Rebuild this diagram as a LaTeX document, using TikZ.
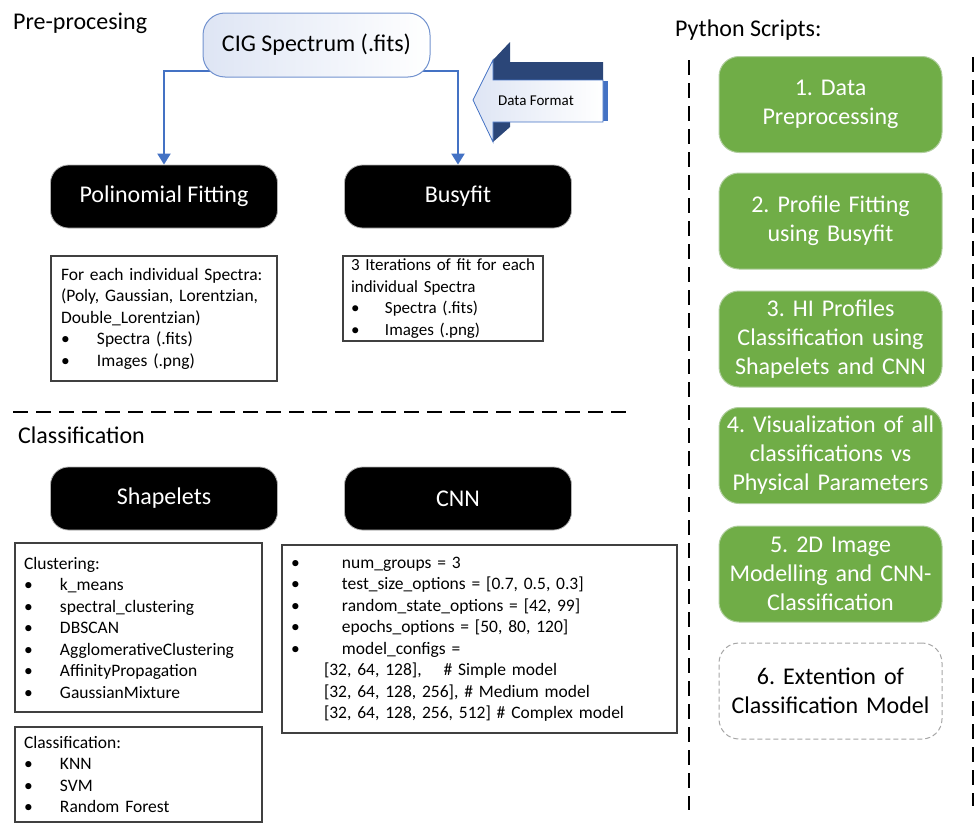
\documentclass[tikz,border=0pt]{standalone}
\usepackage{fontspec}
\setmainfont{Carlito}
\usepackage{xcolor}
\usepackage{tikz}
\usetikzlibrary{arrows.meta,positioning,backgrounds}
\frenchspacing
\definecolor{psblue}{RGB}{68,114,196}
\definecolor{psedge}{RGB}{114,146,207}
\definecolor{psface}{RGB}{222,229,244}
\definecolor{psdark}{RGB}{43,70,120}
\definecolor{psgreen}{RGB}{112,173,71}
\definecolor{psgreenedge}{RGB}{176,206,158}
\definecolor{psframe}{RGB}{64,64,64}
\newcommand{\pbul}[2][36pt]{\makebox[#1][l]{\textbullet}#2}
\tikzset{
pstitle/.style={font=\fontsize{24}{29}\selectfont,inner sep=0pt,anchor=base west},
pssource/.style={rectangle,rounded corners=22pt,draw=psedge,line width=1pt,left color=psface,right color=white,minimum width=227pt,minimum height=64pt,font=\fontsize{24}{29}\selectfont},
psmethod/.style={rectangle,rounded corners=18pt,draw=gray!60,line width=0.8pt,fill=black,text=white,minimum width=227pt,minimum height=63pt,font=\fontsize{24}{29}\selectfont},
pslist/.style={rectangle,draw=psframe,line width=1.2pt,align=left,inner xsep=9pt,inner ysep=0pt,font=\fontsize{17.5}{21.5}\selectfont},
psscript/.style={rectangle,rounded corners=20pt,draw=psgreenedge,line width=1pt,fill=psgreen,text=white,align=center,minimum width=223pt,minimum height=96pt,text width=215pt,font=\fontsize{24}{29}\selectfont},
psfuture/.style={psscript,fill=white,text=black,draw=gray!70,dash pattern=on 5pt off 3pt},
psflow/.style={-{Triangle[width=13pt,length=11pt]},psblue,line width=2pt},
psdiv/.style={line width=2pt,dash pattern=on 15pt off 8pt},
pslabel/.style={font=\fontsize{15}{18}\selectfont,inner sep=0pt}
}
\begin{document}
\begin{tikzpicture}[x=1pt,y=-1pt]
\useasboundingbox (0,0) rectangle (974,827);
% section titles
\node[pstitle] (pretitle) at (13,29) {Pre-procesing};
\node[pstitle] (clstitle) at (18,443) {Classification};
\node[pstitle] (pytitle) at (675,36) {Python Scripts:};
% pre-processing
\node[pssource] (cig) at (316.5,45) {CIG Spectrum (.fits)};
\node[psmethod] (polyfit) at (164,196.5) {Polinomial Fitting};
\node[psmethod] (busyfit) at (458,196.5) {Busyfit};
\node[pslist,inner xsep=10pt,text width=206pt,minimum height=125pt]
  (polyout) at (164,318.5) {For each individual Spectra:\\(Poly, Gaussian, Lorentzian,\\Double\_Lorentzian)\\\pbul{Spectra (.fits)}\\\pbul{Images (.png)}};
\node[pslist,inner xsep=8pt,text width=184pt,minimum height=85pt,font=\fontsize{17}{21.5}\selectfont]
  (busyout) at (443,298.5) {\mbox{3 Iterations of fit for each}\\individual Spectra\\\pbul[34pt]{Spectra (.fits)}\\\pbul[34pt]{Images (.png)}};
% data format arrow
\fill[psdark] (493,60) -- (510,42) -- (510,62) -- (603,62) -- (603,80) -- (493,80) -- cycle;
\fill[psdark] (493,122) -- (510,122) -- (510,127) -- (493,142) -- cycle;
\fill[psblue] (603,81) rectangle (608,121);
\draw[psblue,line width=0.8pt,left color=psface,right color=white]
  (473,100) -- (493,60) -- (493,80) -- (603,80) -- (603,122) -- (493,122) -- (493,142) -- cycle;
\node[pslabel,anchor=west] (dfmt) at (498,101) {Data Format};
\begin{scope}[on background layer]
\draw[psflow] ([yshift=7pt]cig.south) -| (polyfit.north);
\draw[psflow] ([yshift=7pt]cig.south) -| (busyfit.north);
\end{scope}
\draw[psdiv] (13,412) -- (627,412);
% classification
\node[psmethod] (shapelets) at (164,498.5) {Shapelets};
\node[psmethod] (cnn) at (458,498.5) {CNN};
\node[pslist,text width=229pt,minimum height=169pt]
  (clustering) at (138.5,627.5) {Clustering:\\\pbul{k\_means}\\\pbul{spectral\_clustering}\\\pbul{DBSCAN}\\\pbul{AgglomerativeClustering}\\\pbul{AffinityPropagation}\\\pbul{GaussianMixture}};
\node[pslist,text width=229pt,minimum height=95pt]
  (classifiers) at (138.5,774.5) {Classification:\\\pbul{KNN}\\\pbul{SVM}\\\pbul{Random Forest}};
\node[pslist,text width=377pt,minimum height=188pt]
  (cnnparams) at (479.5,639) {\pbul[51pt]{num\_groups = 3}\\\pbul[51pt]{test\_size\_options = [0.7, 0.5, 0.3]}\\\pbul[51pt]{random\_state\_options = [42, 99]}\\\pbul[51pt]{epochs\_options = [50, 80, 120]}\\\pbul[51pt]{model\_configs =}\\\hspace*{33pt}[32, 64, 128],\hspace{22pt}\# Simple model\\\hspace*{33pt}[32, 64, 128, 256], \# Medium model\\\hspace*{33pt}[32, 64, 128, 256, 512] \# Complex model};
% python scripts column
\draw[psdiv] (689,60) -- (689,810);
\draw[psdiv] (972.5,57) -- (972.5,806);
\node[psscript] (script1) at (830.5,104.5) {1. Data\\Preprocessing};
\node[psscript] (script2) at (830.5,221) {2. Profile Fitting\\using Busyfit};
\node[psscript] (script3) at (830.5,339) {3. HI Profiles\\Classification using\\Shapelets and CNN};
\node[psscript] (script4) at (830.5,455.5) {4. Visualization of all\\classifications vs\\Physical Parameters};
\node[psscript] (script5) at (830.5,574) {5. 2D Image\\Modelling and CNN-\\Classification};
\node[psfuture] (script6) at (830.5,691) {6. Extention of\\Classification Model};
\end{tikzpicture}
\end{document}
